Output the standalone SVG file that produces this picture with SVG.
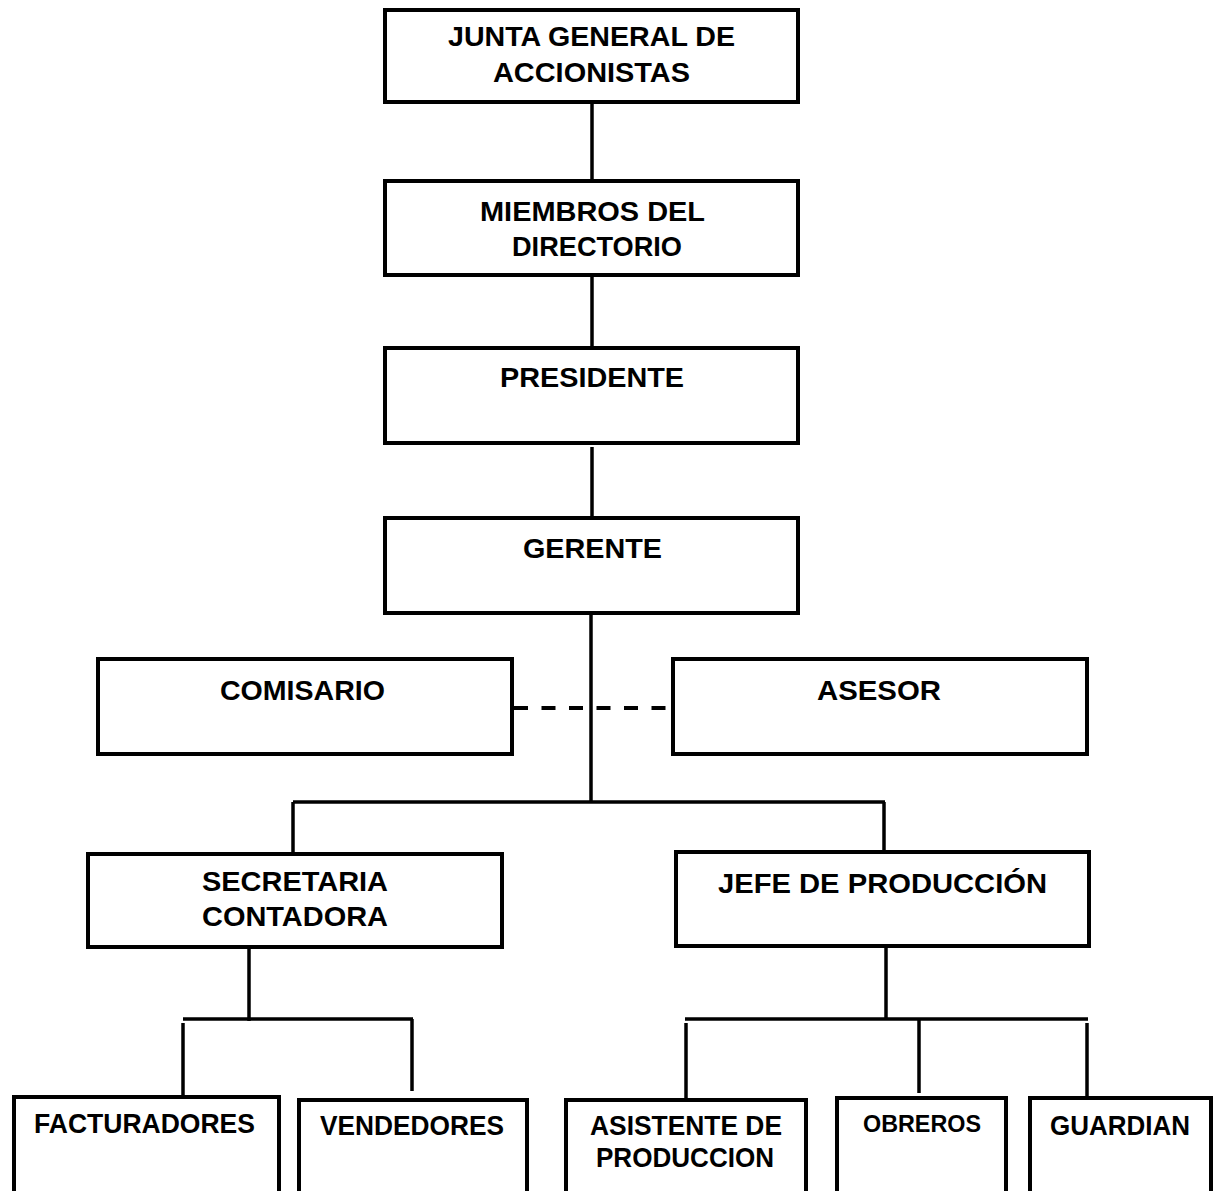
<svg xmlns="http://www.w3.org/2000/svg" width="1214" height="1191" viewBox="0 0 1214 1191">
<style>
.box{fill:#fff;stroke:#000;stroke-width:4}
.t{font-family:"Liberation Sans",Arial,sans-serif;font-weight:bold;font-size:28px;fill:#000;text-anchor:middle}
.c{stroke:#000;stroke-width:3.5;fill:none}
.d{stroke:#000;stroke-width:4;stroke-dasharray:14 13.5;fill:none}
</style>
<rect width="1214" height="1191" fill="#fff"/>
<g id="connectors">
<line class="c" x1="592" y1="102" x2="592" y2="181"/>
<line class="c" x1="592" y1="275" x2="592" y2="348"/>
<line class="c" x1="592" y1="447" x2="592" y2="518"/>
<line class="c" x1="591" y1="613" x2="591" y2="802"/>
<line class="d" x1="514" y1="708" x2="672" y2="708"/>
<line class="c" x1="293" y1="802" x2="885" y2="802"/>
<line class="c" x1="293" y1="802" x2="293" y2="854"/>
<line class="c" x1="884" y1="802" x2="884" y2="852"/>
<line class="c" x1="249" y1="947" x2="249" y2="1021"/>
<line class="c" x1="183" y1="1019" x2="413" y2="1019"/>
<line class="c" x1="183" y1="1023" x2="183" y2="1096"/>
<line class="c" x1="412" y1="1019" x2="412" y2="1091"/>
<line class="c" x1="886" y1="946" x2="886" y2="1019"/>
<line class="c" x1="685" y1="1019" x2="1088" y2="1019"/>
<line class="c" x1="686" y1="1023" x2="686" y2="1099"/>
<line class="c" x1="919" y1="1019" x2="919" y2="1093"/>
<line class="c" x1="1087" y1="1023" x2="1087" y2="1096"/>
</g>
<g id="junta"><rect class="box" x="385" y="10" width="413" height="92"/>
<text class="t" x="591.5" y="46" textLength="287" lengthAdjust="spacingAndGlyphs">JUNTA GENERAL DE</text>
<text class="t" x="591.5" y="82" textLength="197" lengthAdjust="spacingAndGlyphs">ACCIONISTAS</text></g>
<g id="miembros"><rect class="box" x="385" y="181" width="413" height="94"/>
<text class="t" x="592.5" y="221" textLength="225" lengthAdjust="spacingAndGlyphs">MIEMBROS DEL</text>
<text class="t" x="597" y="256" textLength="170" lengthAdjust="spacingAndGlyphs">DIRECTORIO</text></g>
<g id="presidente"><rect class="box" x="385" y="348" width="413" height="95"/>
<text class="t" x="592" y="387" textLength="184" lengthAdjust="spacingAndGlyphs">PRESIDENTE</text></g>
<g id="gerente"><rect class="box" x="385" y="518" width="413" height="95"/>
<text class="t" x="592.5" y="558" textLength="139" lengthAdjust="spacingAndGlyphs">GERENTE</text></g>
<g id="comisario"><rect class="box" x="98" y="659" width="414" height="95"/>
<text class="t" x="302.5" y="700" textLength="165" lengthAdjust="spacingAndGlyphs">COMISARIO</text></g>
<g id="asesor"><rect class="box" x="673" y="659" width="414" height="95"/>
<text class="t" x="879" y="700" textLength="124" lengthAdjust="spacingAndGlyphs">ASESOR</text></g>
<g id="secretaria"><rect class="box" x="88" y="854" width="414" height="93"/>
<text class="t" x="295" y="891" textLength="186" lengthAdjust="spacingAndGlyphs">SECRETARIA</text>
<text class="t" x="295" y="926" textLength="186" lengthAdjust="spacingAndGlyphs">CONTADORA</text></g>
<g id="jefe"><rect class="box" x="676" y="852" width="413" height="94"/>
<text class="t" x="882.5" y="893" textLength="329" lengthAdjust="spacingAndGlyphs">JEFE DE PRODUCCIÓN</text></g>
<g id="facturadores"><rect class="box" x="14" y="1097" width="265" height="100"/>
<text class="t" x="144.5" y="1133" textLength="221" lengthAdjust="spacingAndGlyphs">FACTURADORES</text></g>
<g id="vendedores"><rect class="box" x="299" y="1100" width="228" height="100"/>
<text class="t" x="412" y="1135" textLength="184" lengthAdjust="spacingAndGlyphs">VENDEDORES</text></g>
<g id="asistente"><rect class="box" x="566" y="1100" width="240" height="100"/>
<text class="t" x="686" y="1135" textLength="192" lengthAdjust="spacingAndGlyphs">ASISTENTE DE</text>
<text class="t" x="685" y="1167" textLength="178" lengthAdjust="spacingAndGlyphs">PRODUCCION</text></g>
<g id="obreros"><rect class="box" x="837" y="1098" width="169" height="100"/>
<text class="t" x="922" y="1132" textLength="118" lengthAdjust="spacingAndGlyphs" style="font-size:23px">OBREROS</text></g>
<g id="guardian"><rect class="box" x="1030" y="1098" width="181" height="100"/>
<text class="t" x="1120" y="1135" textLength="140" lengthAdjust="spacingAndGlyphs">GUARDIAN</text></g>
</svg>
